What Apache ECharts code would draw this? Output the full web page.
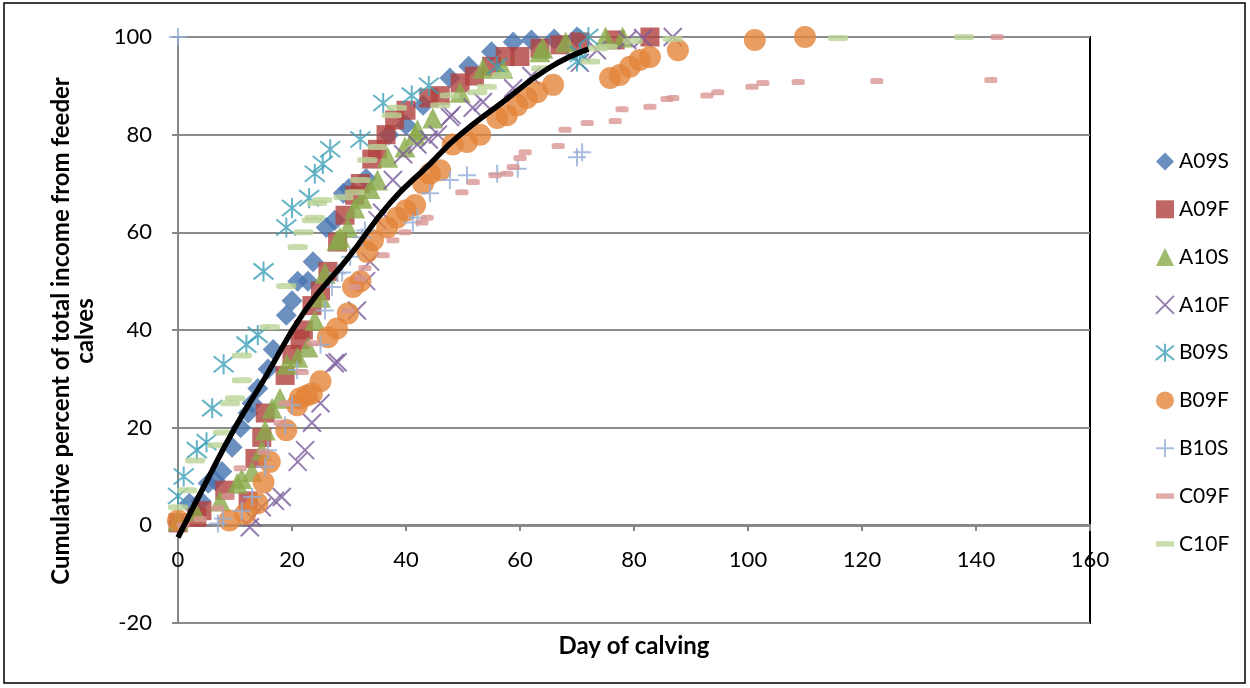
<!DOCTYPE html>
<html>
<head>
<meta charset="utf-8">
<script src="https://cdn.jsdelivr.net/npm/echarts@6/dist/echarts.min.js"></script>
<style>
  html, body { margin: 0; padding: 0; background: #fff; }
  #chart { width: 1250px; height: 688px; }
</style>
</head>
<body>
<div id="chart"></div>
<script>
// [day of calving, cumulative % of income]
const A09S = [[0,0.5],[2,4.5],[4,5],[5.3,8.6],[6.5,9.2],[7.7,11],[9.5,16],[11,20],[12.3,23],[13,25],[14,28],[15.8,32],[16.7,36],[19,43],[20,46],[21,50],[22.8,50],[23.7,54],[26,61],[27.5,62.5],[29,68],[30,69],[33,71],[37,80],[40,82],[43,86],[47.7,91.6],[51,94],[55,97],[58.8,99],[62,99.4],[66,99.6],[70,100]]
const A09F = [[0,0.5],[3.3,1.6],[4.2,3],[8.2,7.2],[12.3,5],[13.5,13.7],[14.7,18],[15.3,23],[18.8,30.7],[20,35],[21.4,38],[22,40],[23.5,45],[25,48],[26.3,52],[28,58],[29.3,63.5],[31,67.6],[32,70],[34,75],[35,77],[36.5,80],[38,83],[40,85],[44,87.5],[46,88],[49.5,90.6],[52,92],[55,94],[57.4,96],[60,96],[63.5,97.7],[67,98.4],[70.5,99],[76.7,99.4],[82.8,100]]
const A10S = [[0,1],[3,3],[7.4,5],[10.4,8.6],[11.2,9.6],[13,11],[14.7,15.4],[15.3,19.5],[16.5,24],[17.9,26],[19.1,33],[21,34.4],[22.8,36.5],[24,42],[25,46.7],[25.8,51.6],[27.9,58.4],[28.4,59],[29.8,61],[31,65],[32.3,67],[33.7,69],[35,70.7],[36.8,75.4],[39.8,77.5],[41.6,80],[42,81],[44.7,83.4],[49.5,88.7],[53.5,93.6],[57,93.6],[63.5,97],[64,97.7],[68,99],[75,100],[78,100]]
const A10F = [[12.6,-0.4],[13,1.6],[14.7,3.7],[17,5],[18.2,5.8],[21,13],[22.3,15.4],[23.5,21],[25,25],[27.5,33.2],[28,33.4],[31.4,44],[33,50],[33.7,54],[35,62.5],[35.8,64],[37.7,70.7],[39.5,76],[42,78],[44,79],[45.6,80],[47.7,83.6],[48,84],[51.7,85.5],[53.5,86.7],[58.8,89.5],[62,92],[70.5,94.7],[73.5,97.3],[78.8,99.4],[81.6,99.8],[86.8,100]]
const B09S = [[0,6],[1,10],[3.3,15.4],[5,17],[6,24],[8,33],[12,37],[14,39],[15,52],[19,61],[20,65],[23,67],[24,72],[25.4,74],[26.7,77],[32,79],[36,86.5],[41,88],[44,90],[56,94],[70,95],[70.5,96.5],[72,100]]
const B09F = [[0,1],[9,1],[11.8,2.3],[13.9,4.5],[15,8.8],[16.1,13],[19,19.5],[20.9,24.6],[21.4,26],[22.6,26.6],[23.5,27],[25,29.5],[26.3,38.5],[27.9,40.3],[29.8,43.4],[30.7,48.8],[32,50],[33.2,56],[34.2,58.4],[36.7,61],[38.4,63],[40,64.5],[41.6,65.6],[43,70],[44.2,72],[46,72.7],[48.2,78],[50.7,78.5],[53,80],[56,83.4],[57.7,84],[59.5,86],[61.2,87.5],[63,88.7],[65.8,90.2],[75.8,91.6],[77.5,92.2],[79.3,93.9],[81,95.3],[82.8,95.9],[87.7,97.3],[101.2,99.4],[110,100]]
const B10S = [[0,100],[7,0.4],[7.9,1.4],[11.2,3],[13,5.8],[15.3,12],[15.8,15.4],[18.8,20.5],[20,24.6],[20.9,31.8],[25,37],[25.8,44],[27,48.8],[28,51.6],[28.8,51.8],[30.2,55],[32.3,59],[32.8,60.4],[41.2,62],[42,63],[44.2,68],[47.7,70.7],[50.7,71.7],[56,72],[59.6,73],[70,75.4],[70.9,76.4]]
const C09F = [[0.9,0],[3.9,1.3],[7,3.5],[8.8,6],[10.9,11.7],[15,15],[17.9,21],[18.8,25],[21.8,31.4],[23.7,37.3],[29.8,44],[31,48.8],[32,50.6],[32.8,52.7],[36,55.3],[37.7,58.4],[39.8,60],[42.8,62],[43.7,63],[49.8,68.2],[51.8,70.3],[55.6,71.7],[57.7,72],[58.8,73.4],[60,75.2],[60.9,76.4],[66.7,77.7],[67.9,81],[71.8,82.4],[76.7,82.8],[77.9,85.2],[82.8,85.7],[85.8,87.3],[86.8,87.5],[92.8,88],[94.7,88.7],[100.7,89.8],[102.6,90.6],[108.8,90.8],[122.6,91],[142.6,91.2],[143.7,100]]
const C10F = [[0,3.7],[1.6,7.2],[3,13.3],[7,16.4],[7.9,19],[9.1,25],[10,26],[11.2,29.7],[11.2,34.8],[16.1,40.6],[19,49],[21,57],[22,60],[23.5,62.5],[24,63],[24.4,66],[25.3,66.6],[29,67.2],[31,68.2],[32,70.7],[33.2,74.8],[35,77.5],[37.5,84],[38.4,85.5],[46,86],[47.7,88],[52.5,88.7],[54.2,89.8],[56.8,92.2],[63.7,93.6],[72.3,95],[73.7,97.7],[75.3,98],[79.8,99.2],[86.8,99.6],[115.8,99.8],[137.9,100]]
// fitted curve
const trend = [[0,-2.5],[5,9],[10,20],[15,29.7],[22.3,44],[30,55],[37.2,66],[44.2,74],[49,79.5],[57,86.7],[65,93.6],[72,97.5]]

const seriesNames = ['A09S', 'A09F', 'A10S', 'A10F', 'B09S', 'B09F', 'B10S', 'C09F', 'C10F']
const xTicks = { min: 0, max: 160, interval: 20 }
const yTicks = { min: -20, max: 100, interval: 20 }
const xTitle = 'Day of calving'
const yTitle = 'Cumulative percent of total income from feeder\ncalves'

const FONT = 'Lato, "Open Sans", sans-serif'

const crossPath = 'path://M0,0 L10,10 M10,0 L0,10'
const starPath = 'path://M0,1 L10,9 M10,1 L0,9 M5,0 L5,10'
const plusPath = 'path://M5,0 L5,10 M0,5 L10,5'
const dashPath = 'path://M0,0 L10,0 L10,3 L0,3 Z'

const styles = {
  A09S: { data: A09S, symbol: 'diamond', size: 21, color: '#4674B0' },
  A09F: { data: A09F, symbol: 'rect', size: 19, color: '#B0413E' },
  A10S: { data: A10S, symbol: 'triangle', size: 21, color: '#8AAA4A' },
  A10F: { data: A10F, symbol: crossPath, size: 18, color: '#7A5C9C', stroke: true },
  B09S: { data: B09S, symbol: starPath, size: 20, color: '#3DA0B8', stroke: true },
  B09F: { data: B09F, symbol: 'circle', size: 22, color: '#E3843A' },
  B10S: { data: B10S, symbol: plusPath, size: 18, color: '#93AED6', stroke: true },
  C09F: { data: C09F, symbol: 'roundRect', size: [13, 6], color: '#D99694' },
  C10F: { data: C10F, symbol: 'roundRect', size: [20, 6], color: '#BCD396' }
}

const chart = echarts.init(document.getElementById('chart'))

const scatterSeries = seriesNames.map(name => {
  const s = styles[name]
  return {
    name,
    type: 'scatter',
    data: s.data,
    symbol: s.symbol,
    symbolSize: s.size,
    itemStyle: s.stroke
      ? { color: 'rgba(0,0,0,0)', borderColor: s.color, borderWidth: 2 }
      : { color: s.color },
    emphasis: { disabled: true }
  }
})

const legendIcons = {
  A10F: crossPath, B09S: starPath, B10S: plusPath, C09F: dashPath, C10F: dashPath
}

const option = {
  animation: false,
  textStyle: { fontFamily: FONT },
  graphic: [
    {
      type: 'rect',
      shape: { x: 4, y: 3, width: 1241, height: 680 },
      style: { fill: 'none', stroke: '#000', lineWidth: 1.5 },
      silent: true
    },
    {
      // y-axis title, two lines, rotated
      type: 'text',
      x: 73, y: 331,
      rotation: Math.PI / 2,
      style: {
        text: yTitle,
        font: 'bold 24px Lato, "Open Sans", sans-serif',
        fill: '#000',
        align: 'center',
        verticalAlign: 'middle',
        lineHeight: 24
      },
      silent: true
    },
    {
      type: 'text',
      x: 634, y: 646,
      style: {
        text: xTitle,
        font: 'bold 24px Lato, "Open Sans", sans-serif',
        fill: '#000',
        align: 'center',
        verticalAlign: 'middle'
      },
      silent: true
    }
  ],
  grid: {
    left: 178, right: 160, top: 37, bottom: 65,
    outerBoundsMode: 'none',
    containLabel: false,
    show: true, borderColor: '#000', borderWidth: 2
  },
  legend: {
    orient: 'vertical',
    left: 1150,
    top: 146,
    itemGap: 26.8,
    itemWidth: 18,
    itemHeight: 18,
    textStyle: { fontSize: 21, color: '#000', fontFamily: FONT },
    data: seriesNames.map(name => {
      const item = { name }
      if (legendIcons[name]) {
        item.icon = legendIcons[name]
        if (name === 'C09F' || name === 'C10F') item.itemStyle = { color: styles[name].color }
      }
      return item
    })
  },
  xAxis: {
    type: 'value',
    min: xTicks.min, max: xTicks.max, interval: xTicks.interval,
    position: 'bottom',
    // the axis line sits on y = 0 (the -20 band lies below it)
    offset: -98,
    axisLine: { onZero: false, lineStyle: { color: '#868686', width: 2 } },
    axisTick: { show: true, length: 6, lineStyle: { color: '#868686', width: 2 } },
    axisLabel: { fontSize: 22, color: '#000', margin: 24 },
    splitLine: { show: false }
  },
  yAxis: {
    type: 'value',
    min: yTicks.min, max: yTicks.max, interval: yTicks.interval,
    axisLine: { show: true, onZero: false, lineStyle: { color: '#868686', width: 2 } },
    axisTick: { show: true, length: 6, lineStyle: { color: '#868686', width: 2 } },
    axisLabel: { fontSize: 22, color: '#000', margin: 26 },
    splitLine: { show: true, lineStyle: { color: '#8C8C8C', width: 2 } }
  },
  series: [
    ...scatterSeries,
    {
      name: 'trend',
      type: 'line',
      data: trend,
      smooth: true,
      showSymbol: false,
      symbol: 'none',
      lineStyle: { color: '#000', width: 5.5 },
      z: 3,
      emphasis: { disabled: true }
    }
  ]
}

chart.setOption(option)
window.addEventListener('resize', () => chart.resize())
</script>
</body>
</html>
